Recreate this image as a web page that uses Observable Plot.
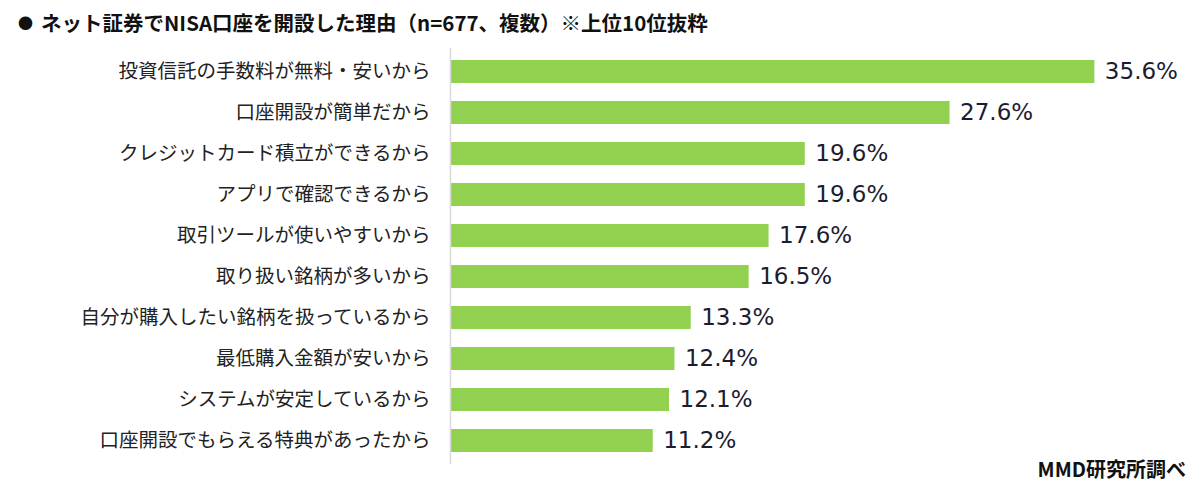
<!DOCTYPE html>
<html>
<head>
<meta charset="utf-8">
<script src="https://cdn.jsdelivr.net/npm/d3@7"></script>
<script src="https://cdn.jsdelivr.net/npm/@observablehq/plot@0.6"></script>
<style>
  html, body { margin: 0; padding: 0; background: #fff; width: 1200px; height: 492px; overflow: hidden; position: relative; }
  #title { height: 40px; box-sizing: border-box; padding: 9px 0 0 18px; font-family: "Noto Sans CJK JP", sans-serif; font-weight: bold; font-size: 20.5px; line-height: 26px; color: #111; white-space: nowrap; }
  #title .dot { display: inline-block; margin-right: 8px; font-size: 15px; vertical-align: 2px; }
  #footer { position: absolute; right: 14px; top: 455px; font-family: "Noto Sans CJK JP", sans-serif; font-weight: bold; font-size: 20px; line-height: 28px; color: #111; }
</style>
</head>
<body>
<div id="title"><span class="dot">●</span>ネット証券でNISA口座を開設した理由（n=677、複数）※上位10位抜粋</div>
<div id="chart"></div>
<div id="footer">MMD研究所調べ</div>
<script>
const categories = [
  "投資信託の手数料が無料・安いから",
  "口座開設が簡単だから",
  "クレジットカード積立ができるから",
  "アプリで確認できるから",
  "取引ツールが使いやすいから",
  "取り扱い銘柄が多いから",
  "自分が購入したい銘柄を扱っているから",
  "最低購入金額が安いから",
  "システムが安定しているから",
  "口座開設でもらえる特典があったから"
];
const values = [35.6, 27.6, 19.6, 19.6, 17.6, 16.5, 13.3, 12.4, 12.1, 11.2];
const valueLabels = ["35.6%", "27.6%", "19.6%", "19.6%", "17.6%", "16.5%", "13.3%", "12.4%", "12.1%", "11.2%"];

const data = categories.map((c, i) => ({ category: c, value: values[i], label: valueLabels[i] }));

const chart = Plot.plot({
  width: 1200,
  height: 428,
  marginTop: 8,
  marginBottom: 4,
  marginLeft: 450,
  marginRight: 26,
  style: { background: "#fff", overflow: "visible" },
  x: { domain: [0, 40], axis: null },
  y: { domain: categories, paddingInner: 0.45, paddingOuter: 0.2, label: null },
  marks: [
    Plot.axisY({
      tickSize: 0,
      tickPadding: 20,
      fontSize: 19.5,
      fontFamily: "Noto Sans CJK JP",
      fill: "#222",
      label: null
    }),
    Plot.barX(data, { x: "value", y: "category", fill: "#92D050" }),
    Plot.ruleX([0], { stroke: "#d9d9d9", strokeWidth: 1.5 }),
    Plot.text(data, {
      x: "value",
      y: "category",
      text: "label",
      textAnchor: "start",
      dx: 10,
      fontSize: 23,
      fontFamily: "DejaVu Sans",
      fill: "#1c1c30"
    })
  ]
});
document.getElementById("chart").appendChild(chart);
</script>
</body>
</html>
